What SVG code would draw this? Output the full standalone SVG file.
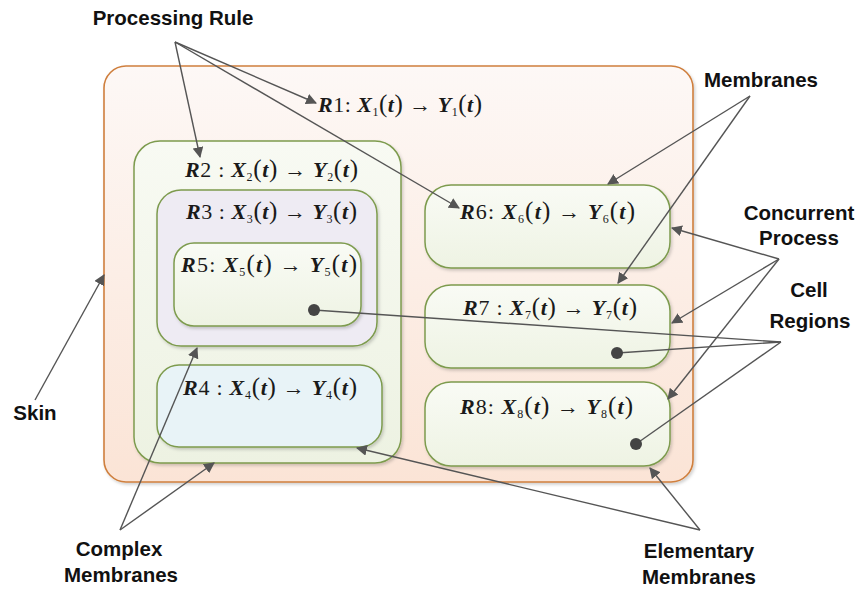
<svg xmlns="http://www.w3.org/2000/svg" width="863" height="589" viewBox="0 0 863 589">
<style>
.lbl{font-family:"Liberation Sans",Arial,sans-serif;font-weight:bold;font-size:20.5px;fill:#111;text-anchor:middle}
.eq{font-family:"Liberation Serif","Times New Roman",serif;font-size:22px;fill:#1a1a1a}
.b{font-weight:bold;font-style:italic}
.s{font-size:12px}
.p{font-size:25px}
.mem{stroke:#7d9b4e;stroke-width:1.5}
.con{stroke:#555;stroke-width:1.4;fill:none}
.dot{fill:#444}
</style>
<defs>
<linearGradient id="gSkin" x1="0" y1="0" x2="0" y2="1"><stop offset="0" stop-color="#fdf8f6"/><stop offset="1" stop-color="#fbe4d6"/></linearGradient>
<linearGradient id="gGreen" x1="0" y1="0" x2="0" y2="1"><stop offset="0" stop-color="#f9fbf5"/><stop offset="1" stop-color="#eef3e3"/></linearGradient>
<linearGradient id="gBig" x1="0" y1="0" x2="0" y2="1"><stop offset="0" stop-color="#f8faf3"/><stop offset="1" stop-color="#edf2e2"/></linearGradient>
<filter id="sh" x="-10%" y="-10%" width="125%" height="125%"><feDropShadow dx="1.5" dy="2" stdDeviation="1.5" flood-color="#000" flood-opacity="0.18"/></filter>
<marker id="ah" viewBox="0 0 10 10" refX="9" refY="5" markerWidth="11" markerHeight="11" markerUnits="userSpaceOnUse" orient="auto"><path d="M0,0 L10,5 L0,10 z" fill="#555"/></marker>
</defs>
<rect width="863" height="589" fill="#fff"/>

<g id="skin">
<rect x="104" y="66" width="589" height="416" rx="22" fill="url(#gSkin)" stroke="#cf7f3e" stroke-width="1.6" filter="url(#sh)"/>
<text class="eq" x="318" y="112" textLength="164" lengthAdjust="spacing"><tspan class="b">R</tspan>1: <tspan class="b">X</tspan><tspan class="s" dy="4">1</tspan><tspan class="p" dy="-4">(</tspan><tspan class="b">t</tspan><tspan class="p">)</tspan> → <tspan class="b">Y</tspan><tspan class="s" dy="4">1</tspan><tspan class="p" dy="-4">(</tspan><tspan class="b">t</tspan><tspan class="p">)</tspan></text>
</g>

<g id="m2">
<rect x="134" y="141" width="267" height="322" rx="26" fill="url(#gBig)" class="mem" filter="url(#sh)"/>
<text class="eq" x="185" y="177" textLength="173" lengthAdjust="spacing"><tspan class="b">R</tspan>2 : <tspan class="b">X</tspan><tspan class="s" dy="4">2</tspan><tspan class="p" dy="-4">(</tspan><tspan class="b">t</tspan><tspan class="p">)</tspan> → <tspan class="b">Y</tspan><tspan class="s" dy="4">2</tspan><tspan class="p" dy="-4">(</tspan><tspan class="b">t</tspan><tspan class="p">)</tspan></text>
</g>

<g id="m3">
<rect x="157" y="190" width="220" height="156" rx="24" fill="#eeebf3" class="mem" filter="url(#sh)"/>
<text class="eq" x="186" y="219" textLength="171" lengthAdjust="spacing"><tspan class="b">R</tspan>3 : <tspan class="b">X</tspan><tspan class="s" dy="4">3</tspan><tspan class="p" dy="-4">(</tspan><tspan class="b">t</tspan><tspan class="p">)</tspan> → <tspan class="b">Y</tspan><tspan class="s" dy="4">3</tspan><tspan class="p" dy="-4">(</tspan><tspan class="b">t</tspan><tspan class="p">)</tspan></text>
</g>

<g id="m5">
<rect x="174" y="243" width="187" height="83" rx="20" fill="url(#gGreen)" class="mem" filter="url(#sh)"/>
<text class="eq" x="181" y="272" textLength="176" lengthAdjust="spacing"><tspan class="b">R</tspan>5: <tspan class="b">X</tspan><tspan class="s" dy="4">5</tspan><tspan class="p" dy="-4">(</tspan><tspan class="b">t</tspan><tspan class="p">)</tspan> → <tspan class="b">Y</tspan><tspan class="s" dy="4">5</tspan><tspan class="p" dy="-4">(</tspan><tspan class="b">t</tspan><tspan class="p">)</tspan></text>
</g>

<g id="m4">
<rect x="157" y="365" width="225" height="82" rx="22" fill="#e8f3f7" class="mem" filter="url(#sh)"/>
<text class="eq" x="183" y="395" textLength="174" lengthAdjust="spacing"><tspan class="b">R</tspan>4 : <tspan class="b">X</tspan><tspan class="s" dy="4">4</tspan><tspan class="p" dy="-4">(</tspan><tspan class="b">t</tspan><tspan class="p">)</tspan> → <tspan class="b">Y</tspan><tspan class="s" dy="4">4</tspan><tspan class="p" dy="-4">(</tspan><tspan class="b">t</tspan><tspan class="p">)</tspan></text>
</g>

<g id="m6">
<rect x="425" y="185" width="245" height="83" rx="26" fill="url(#gGreen)" class="mem" filter="url(#sh)"/>
<text class="eq" x="460" y="219" textLength="175" lengthAdjust="spacing"><tspan class="b">R</tspan>6: <tspan class="b">X</tspan><tspan class="s" dy="4">6</tspan><tspan class="p" dy="-4">(</tspan><tspan class="b">t</tspan><tspan class="p">)</tspan> → <tspan class="b">Y</tspan><tspan class="s" dy="4">6</tspan><tspan class="p" dy="-4">(</tspan><tspan class="b">t</tspan><tspan class="p">)</tspan></text>
</g>

<g id="m7">
<rect x="425" y="285" width="245" height="83" rx="26" fill="url(#gGreen)" class="mem" filter="url(#sh)"/>
<text class="eq" x="463" y="315" textLength="174" lengthAdjust="spacing"><tspan class="b">R</tspan>7 : <tspan class="b">X</tspan><tspan class="s" dy="4">7</tspan><tspan class="p" dy="-4">(</tspan><tspan class="b">t</tspan><tspan class="p">)</tspan> → <tspan class="b">Y</tspan><tspan class="s" dy="4">7</tspan><tspan class="p" dy="-4">(</tspan><tspan class="b">t</tspan><tspan class="p">)</tspan></text>
</g>

<g id="m8">
<rect x="425" y="382" width="245" height="84" rx="26" fill="url(#gGreen)" class="mem" filter="url(#sh)"/>
<text class="eq" x="460" y="414" textLength="173" lengthAdjust="spacing"><tspan class="b">R</tspan>8: <tspan class="b">X</tspan><tspan class="s" dy="4">8</tspan><tspan class="p" dy="-4">(</tspan><tspan class="b">t</tspan><tspan class="p">)</tspan> → <tspan class="b">Y</tspan><tspan class="s" dy="4">8</tspan><tspan class="p" dy="-4">(</tspan><tspan class="b">t</tspan><tspan class="p">)</tspan></text>
</g>

<g id="labels">
<text class="lbl" x="173" y="25">Processing Rule</text>
<text class="lbl" x="761" y="87">Membranes</text>
<text class="lbl" x="799" y="220">Concurrent</text>
<text class="lbl" x="799" y="245">Process</text>
<text class="lbl" x="809" y="297">Cell</text>
<text class="lbl" x="810" y="328">Regions</text>
<text class="lbl" x="35" y="420">Skin</text>
<text class="lbl" x="119" y="556">Complex</text>
<text class="lbl" x="121" y="582">Membranes</text>
<text class="lbl" x="699" y="558">Elementary</text>
<text class="lbl" x="699" y="584">Membranes</text>
</g>

<g id="connectors">
<line class="con" x1="175" y1="42" x2="316" y2="103" marker-end="url(#ah)"/>
<line class="con" x1="175" y1="42" x2="200" y2="157" marker-end="url(#ah)"/>
<line class="con" x1="175" y1="42" x2="459" y2="208" marker-end="url(#ah)"/>
<line class="con" x1="750" y1="96" x2="608" y2="184" marker-end="url(#ah)"/>
<line class="con" x1="750" y1="96" x2="618" y2="283" marker-end="url(#ah)"/>
<line class="con" x1="779" y1="259" x2="672" y2="228" marker-end="url(#ah)"/>
<line class="con" x1="779" y1="259" x2="672" y2="323" marker-end="url(#ah)"/>
<line class="con" x1="779" y1="259" x2="668" y2="399" marker-end="url(#ah)"/>
<line class="con" x1="781" y1="342" x2="314" y2="310"/>
<line class="con" x1="781" y1="342" x2="617" y2="353"/>
<line class="con" x1="781" y1="342" x2="636" y2="444"/>
<circle class="dot" cx="314" cy="310" r="6"/>
<circle class="dot" cx="617" cy="353" r="6"/>
<circle class="dot" cx="636" cy="444" r="6"/>
<line class="con" x1="35" y1="400" x2="104" y2="275" marker-end="url(#ah)"/>
<line class="con" x1="120" y1="530" x2="197" y2="348" marker-end="url(#ah)"/>
<line class="con" x1="120" y1="530" x2="214" y2="463" marker-end="url(#ah)"/>
<line class="con" x1="700" y1="530" x2="357" y2="448" marker-end="url(#ah)"/>
<line class="con" x1="700" y1="530" x2="650" y2="468" marker-end="url(#ah)"/>
</g>
</svg>
